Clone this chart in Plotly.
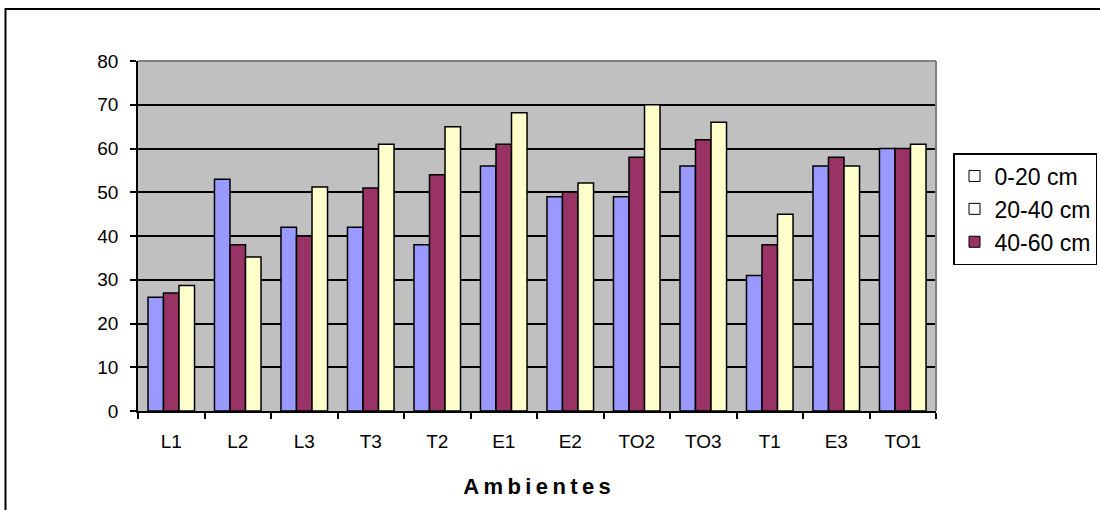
import plotly.graph_objects as go

categories = ["L1", "L2", "L3", "T3", "T2", "E1", "E2", "TO2", "TO3", "T1", "E3", "TO1"]
s_0_20 = [26, 53, 42, 42, 38, 56, 49, 49, 56, 31, 56, 60]
s_40_60 = [27, 38, 40, 51, 54, 61, 50, 58, 62, 38, 58, 60]
s_20_40 = [28.7, 35.2, 51.2, 61, 65, 68.2, 52.1, 70, 66, 45, 56, 61]
y_ticks = [0, 10, 20, 30, 40, 50, 60, 70, 80]

W, H = 1100, 510
L, R, T, B = 138, 164, 61, 99
pw, ph = W - L - R, H - T - B

def px2x(px):
    return (px - L) / pw

def py2y(py):
    return (H - B - py) / ph

FONT = "Liberation Sans, Arial, sans-serif"

fig = go.Figure()
bar_series = [
    ("0-20 cm", s_0_20, "#9999FF"),
    ("40-60 cm", s_40_60, "#993366"),
    ("20-40 cm", s_20_40, "#FFFFCC"),
]
for name, vals, col in bar_series:
    fig.add_trace(go.Bar(
        x=categories, y=vals, name=name, showlegend=False,
        marker=dict(color=col, line=dict(color="black", width=1.5)),
    ))

legend_items = [("0-20 cm", "white"), ("20-40 cm", "white"), ("40-60 cm", "#993366")]
for name, col in legend_items:
    fig.add_trace(go.Scatter(
        x=[None], y=[None], mode="markers", name=name,
        marker=dict(symbol="square", size=11, color=col, line=dict(color="black", width=1)),
    ))

fig.update_layout(
    width=W, height=H,
    margin=dict(l=L, r=R, t=T, b=B, autoexpand=False),
    paper_bgcolor="white", plot_bgcolor="#C0C0C0",
    barmode="group", bargap=0.3, bargroupgap=0,
    font=dict(family=FONT, size=19, color="black"),
    legend=dict(
        x=px2x(953), y=py2y(153), xanchor="left", yanchor="top",
        bordercolor="black", borderwidth=1.5, bgcolor="white",
        font=dict(family=FONT, size=23, color="black"),
        itemwidth=30, tracegroupgap=0,
    ),
    xaxis=dict(
        type="category", showline=True, linecolor="black", linewidth=1.5,
        ticks="outside", tickson="boundaries", ticklen=6, tickcolor="black", tickwidth=1.5,
        ticklabelstandoff=12, showgrid=False,
        tickfont=dict(family=FONT, size=19),
        title=dict(text="A\u2009m\u2009b\u2009i\u2009e\u2009n\u2009t\u2009e\u2009s",
                   font=dict(family=FONT, size=22, weight="bold"), standoff=28),
        mirror=False,
    ),
    yaxis=dict(
        range=[0, 80], tickvals=y_ticks, showline=True, linecolor="black", linewidth=1.5,
        ticks="outside", ticklen=6, tickcolor="black", tickwidth=1.5,
        ticklabelstandoff=8,
        showgrid=True, gridcolor="black", gridwidth=1.5, zeroline=False,
        tickfont=dict(family=FONT, size=19),
    ),
    shapes=[
        dict(type="line", xref="paper", yref="paper", x0=0, x1=1, y0=1, y1=1,
             line=dict(color="#808080", width=2)),
        dict(type="line", xref="paper", yref="paper", x0=1, x1=1, y0=0, y1=1,
             line=dict(color="#808080", width=2)),
        dict(type="rect", xref="paper", yref="paper",
             x0=px2x(5.5), x1=px2x(1105), y0=py2y(515), y1=py2y(9),
             line=dict(color="black", width=2), layer="above"),
    ],
)

fig.write_html("out.html", config={"displayModeBar": False},
               post_script="document.body.style.margin='0px';document.body.style.padding='0px';")
